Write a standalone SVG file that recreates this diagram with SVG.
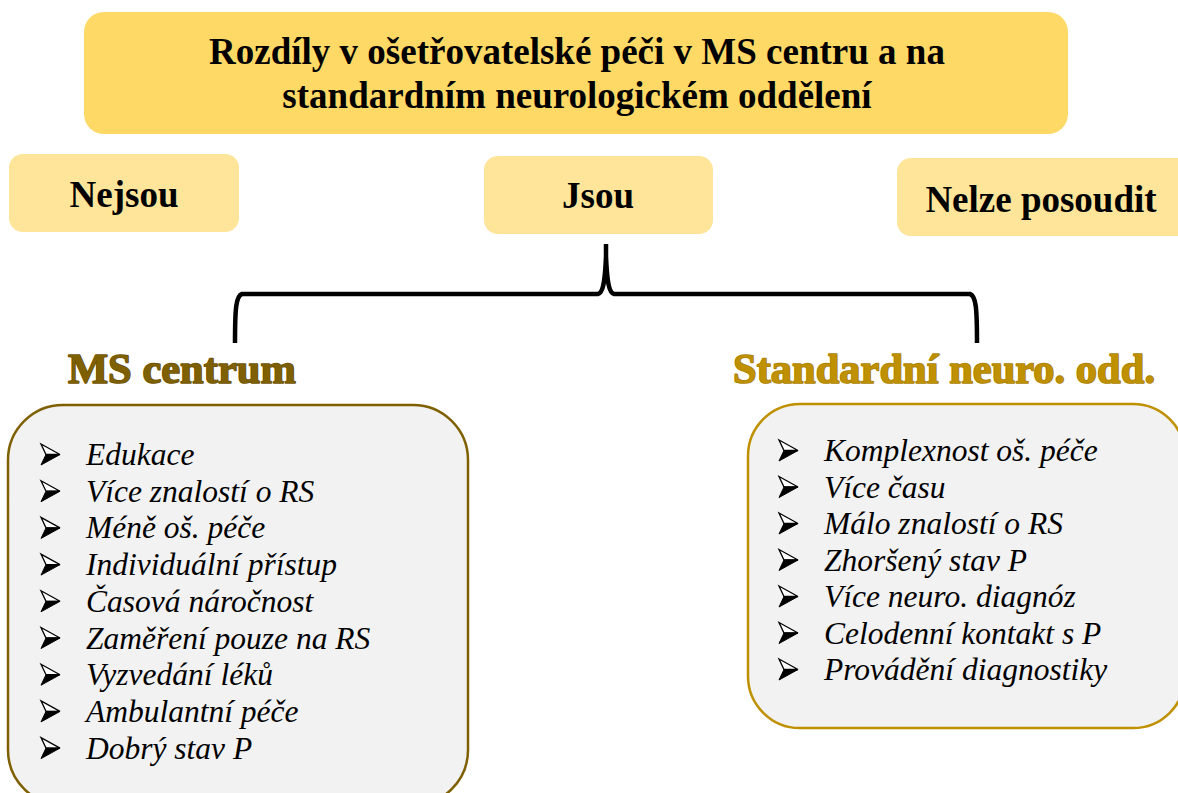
<svg xmlns="http://www.w3.org/2000/svg" width="1178" height="793" viewBox="0 0 1178 793">
  <style>
    .bold { font-family: "Liberation Serif", "Times New Roman", serif; font-weight: bold; fill: #000; }
    .title { font-size: 37px; text-anchor: middle; }
    .cat { font-size: 37px; text-anchor: middle; }
    .head { font-family: "Liberation Serif", "Times New Roman", serif; font-weight: bold; font-size: 42.5px; stroke-width: 1.6; paint-order: stroke; stroke-linejoin: round; }
    .item { font-family: "Liberation Serif", "Times New Roman", serif; font-style: italic; font-size: 31.5px; fill: #000; }
    .listbox { fill: #f2f2f2; stroke-width: 2.5; }
  </style>
  <defs>
    <!-- three-d arrowhead bullet: outlined upper half, solid lower half -->
    <g id="bullet">
      <polygon points="0,0 19,10.5 5,10.5" fill="#fff" stroke="#000" stroke-width="1.3" stroke-linejoin="miter"/>
      <polygon points="5,10.5 19,10.5 0,21" fill="#000" stroke="#000" stroke-width="1"/>
    </g>
  </defs>
  <rect width="1178" height="793" fill="#fff"/>

  <g id="title">
    <rect x="84" y="12" width="984" height="122" rx="20" fill="#ffd966"/>
    <text class="bold title" x="577" y="64">Rozdíly v ošetřovatelské péči v MS centru a na</text>
    <text class="bold title" x="577" y="108">standardním neurologickém oddělení</text>
  </g>

  <g id="nejsou">
    <rect x="9" y="154" width="230" height="78" rx="14" fill="#ffe599"/>
    <text class="bold cat" x="124" y="207">Nejsou</text>
  </g>

  <g id="jsou">
    <rect x="484" y="156" width="229" height="78" rx="14" fill="#ffe599"/>
    <text class="bold cat" x="598" y="208">Jsou</text>
  </g>

  <g id="nelze">
    <rect x="897" y="158" width="300" height="78" rx="14" fill="#ffe599"/>
    <text class="bold cat" x="1041" y="212">Nelze posoudit</text>
  </g>

  <g id="connectors">
    <path d="M235 343 C235 308 236 296 242 294 L598 294 C603 293 605 282 606 256 L606 244 M606 256 C607 282 609 293 614 294 L970 294 C976 296 977 308 977 343" fill="none" stroke="#000" stroke-width="4.5" stroke-linejoin="round"/>
  </g>

  <g id="ms-centrum">
    <text class="head" x="68" y="383" fill="#7f6000" stroke="#6b5000">MS centrum</text>
    <rect class="listbox" x="8" y="405" width="460" height="400" rx="55" stroke="#7f6000"/>
    <use href="#bullet" x="41" y="444"/>
    <use href="#bullet" x="41" y="480.7"/>
    <use href="#bullet" x="41" y="517.4"/>
    <use href="#bullet" x="41" y="554.1"/>
    <use href="#bullet" x="41" y="590.8"/>
    <use href="#bullet" x="41" y="627.5"/>
    <use href="#bullet" x="41" y="664.2"/>
    <use href="#bullet" x="41" y="700.9"/>
    <use href="#bullet" x="41" y="737.6"/>
    <text class="item" x="86" y="465">Edukace</text>
    <text class="item" x="86" y="501.7">Více znalostí o RS</text>
    <text class="item" x="86" y="538.4">Méně oš. péče</text>
    <text class="item" x="86" y="575.1">Individuální přístup</text>
    <text class="item" x="86" y="611.8">Časová náročnost</text>
    <text class="item" x="86" y="648.5">Zaměření pouze na RS</text>
    <text class="item" x="86" y="685.2">Vyzvedání léků</text>
    <text class="item" x="86" y="721.9">Ambulantní péče</text>
    <text class="item" x="86" y="758.6">Dobrý stav P</text>
  </g>

  <g id="standardni">
    <text class="head" x="733" y="383" fill="#bf9000" stroke="#a87e00">Standardní neuro. odd.</text>
    <rect class="listbox" x="748" y="404" width="437" height="324" rx="52" stroke="#bf9000"/>
    <use href="#bullet" x="779" y="440"/>
    <use href="#bullet" x="779" y="476.5"/>
    <use href="#bullet" x="779" y="513"/>
    <use href="#bullet" x="779" y="549.5"/>
    <use href="#bullet" x="779" y="586"/>
    <use href="#bullet" x="779" y="622.5"/>
    <use href="#bullet" x="779" y="659"/>
    <text class="item" x="824" y="461">Komplexnost oš. péče</text>
    <text class="item" x="824" y="497.5">Více času</text>
    <text class="item" x="824" y="534">Málo znalostí o RS</text>
    <text class="item" x="824" y="570.5">Zhoršený stav P</text>
    <text class="item" x="824" y="607">Více neuro. diagnóz</text>
    <text class="item" x="824" y="643.5">Celodenní kontakt s P</text>
    <text class="item" x="824" y="680">Provádění diagnostiky</text>
  </g>
</svg>
